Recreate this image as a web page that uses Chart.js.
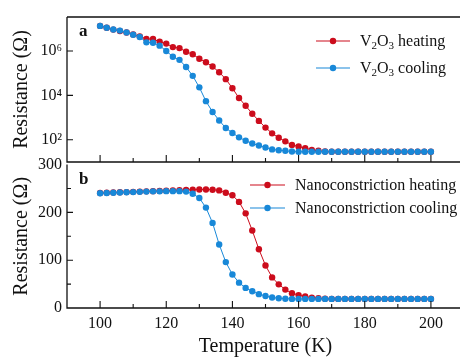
<!DOCTYPE html>
<html>
<head>
<meta charset="utf-8">
<script src="https://cdn.jsdelivr.net/npm/chart.js@4"></script>
<style>
  html, body { margin: 0; padding: 0; background: #fff; overflow: hidden; width: 460px; height: 359px; }
  #wrap { position: relative; width: 460px; height: 359px; overflow: hidden; }
  canvas { position: absolute; left: 0; }
  #topChart { top: 0; }
  #bottomChart { top: 150px; }
</style>
</head>
<body>
<div id="wrap">
  <canvas id="topChart" width="480" height="184"></canvas>
  <canvas id="bottomChart" width="480" height="209"></canvas>
</div>
<script>
// Temperature (K), one reading every 2 K
const temperature = [100, 102, 104, 106, 108, 110, 112, 114, 116, 118,
    120, 122, 124, 126, 128, 130, 132, 134, 136, 138,
    140, 142, 144, 146, 148, 150, 152, 154, 156, 158,
    160, 162, 164, 166, 168, 170, 172, 174, 176, 178,
    180, 182, 184, 186, 188, 190, 192, 194, 196, 198, 200];

// Panel a: V2O3 film resistance (Ohm)
const v2o3Heating = [1.35e7, 1.12e7, 9.2e6, 8.0e6, 6.8e6, 5.6e6, 4.5e6, 3.5e6, 3.45e6, 2.6e6,
    2.15e6, 1.5e6, 1.35e6, 9.3e5, 7.1e5, 4.5e5, 3.1e5, 2.0e5, 1.1e5, 5.4e4,
    2.1e4, 7.6e3, 3.4e3, 1.5e3, 710, 355, 195, 123, 85, 59,
    50, 42, 35, 32, 29.5, 29, 29, 29, 29, 29,
    29, 29, 29, 29, 29, 29, 29, 29, 29, 29, 29];
const v2o3Cooling = [1.35e7, 1.12e7, 9.3e6, 8.3e6, 6.9e6, 5.4e6, 4.3e6, 2.45e6, 2.35e6, 1.74e6,
    1.0e6, 5.5e5, 4.0e5, 1.9e5, 7.6e4, 2.3e4, 5.5e3, 1.8e3, 740, 340,
    204, 129, 91, 68, 55, 45, 37, 34, 32, 29.5,
    29, 29, 29, 29, 29, 29, 29, 29, 29, 29,
    29, 29, 29, 29, 29, 29, 29, 29, 29, 29, 29];

// Panel b: nanoconstriction resistance (Ohm)
const nanoHeating = [240.5, 241, 241.5, 242, 242.5, 243, 243.5, 244, 244.5, 245,
    245.5, 246, 246.5, 247, 247.5, 248, 248, 247.5, 246, 241,
    236, 222, 198, 162, 123, 89, 64, 49.5, 38.5, 31,
    27, 24, 21.5, 20.5, 19.5, 19, 19, 19, 19, 19,
    19, 19, 19, 19, 19, 19, 19, 19, 19, 19, 19];
const nanoCooling = [240, 240.5, 241, 241.5, 242, 242.5, 243, 243.5, 244, 244,
    244.5, 244.5, 244.5, 243.5, 239, 230, 210, 178, 133, 96,
    70, 53, 42, 35, 29, 25, 22, 20.5, 19.5, 19,
    19, 19, 19, 19, 19, 19, 19, 19, 19, 19,
    19, 19, 19, 19, 19, 19, 19, 19, 19, 19, 19];

// Tick values
const xTicks = [100, 120, 140, 160, 180, 200];
const xMinorTicks = [110, 130, 150, 170, 190];
const logTicks = [1e2, 1e4, 1e6];
const logTickLabels = ['10\u00B2', '10\u2074', '10\u2076'];
const linTicks = [0, 100, 200, 300];
const linMinorTicks = [50, 150, 250];

const RED = '#cc0c1c';
const BLUE = '#1888d8';
const FONT = "'Liberation Serif', 'Times New Roman', serif";

Chart.defaults.color = '#111';
Chart.defaults.font.family = FONT;

function toPoints(values) {
    return values.map((v, i) => ({ x: temperature[i], y: v }));
}

function makeDataset(values, color) {
    return {
        data: toPoints(values),
        borderColor: color,
        backgroundColor: color,
        borderWidth: 1,
        pointRadius: 3.2,
        pointBorderWidth: 0,
        pointBackgroundColor: color,
        tension: 0
    };
}

// Draws text pieces, some of them as subscripts
function drawRich(ctx, parts, x, y, size) {
    let cx = x;
    parts.forEach(p => {
        if (p.sub) {
            ctx.font = `${Math.round(size * 0.7)}px ${FONT}`;
            ctx.fillText(p.t, cx, y + size * 0.28);
        } else {
            ctx.font = `${size}px ${FONT}`;
            ctx.fillText(p.t, cx, y);
        }
        cx += ctx.measureText(p.t).width;
    });
}

// Frame, inward ticks, panel letter and legend
const framePlugin = {
    id: 'frame',
    afterDraw(chart, args, opts) {
        const ctx = chart.ctx;
        const area = chart.chartArea;
        const xs = chart.scales.x;
        const ys = chart.scales.y;
        ctx.save();
        ctx.strokeStyle = '#111';
        ctx.lineWidth = 1.3;
        ctx.beginPath();
        ctx.moveTo(area.left, area.top);
        ctx.lineTo(area.left, area.bottom);
        ctx.lineTo(chart.width, area.bottom);
        if (opts.topBorder) {
            ctx.moveTo(area.left, area.top);
            ctx.lineTo(chart.width, area.top);
        }
        ctx.stroke();

        ctx.lineWidth = 1.1;
        ctx.beginPath();
        xTicks.forEach(t => {
            const px = xs.getPixelForValue(t);
            ctx.moveTo(px, area.bottom);
            ctx.lineTo(px, area.bottom - 7);
        });
        xMinorTicks.forEach(t => {
            const px = xs.getPixelForValue(t);
            ctx.moveTo(px, area.bottom);
            ctx.lineTo(px, area.bottom - 4);
        });
        opts.yMajor.forEach(t => {
            const py = ys.getPixelForValue(t);
            if (py > area.top + 1 && py < area.bottom - 1) {
                ctx.moveTo(area.left, py);
                ctx.lineTo(area.left + 6, py);
            }
        });
        opts.yMinor.forEach(t => {
            const py = ys.getPixelForValue(t);
            ctx.moveTo(area.left, py);
            ctx.lineTo(area.left + 4, py);
        });
        ctx.stroke();

        // panel letter
        ctx.fillStyle = '#111';
        ctx.textBaseline = 'alphabetic';
        ctx.textAlign = 'left';
        ctx.font = `bold 17px ${FONT}`;
        ctx.fillText(opts.letter, area.left + 12, area.top + 19);

        // legend
        const lg = opts.legend;
        lg.items.forEach((item, i) => {
            const cy = lg.y + i * lg.gap;
            ctx.strokeStyle = item.color;
            ctx.lineWidth = 1.1;
            ctx.beginPath();
            ctx.moveTo(lg.x, cy);
            ctx.lineTo(lg.x + lg.len, cy);
            ctx.stroke();
            ctx.fillStyle = item.color;
            ctx.beginPath();
            ctx.arc(lg.x + lg.len / 2, cy, 3.2, 0, Math.PI * 2);
            ctx.fill();
            ctx.fillStyle = '#111';
            ctx.textBaseline = 'middle';
            drawRich(ctx, item.parts, lg.x + lg.len + 10, cy + 1, 16);
        });
        ctx.restore();
    }
};

function fixWidth(scale) { scale.width = 67; }

// Panel a: log scale (cooling listed first so it is drawn on top)
new Chart(document.getElementById('topChart'), {
    type: 'line',
    data: { datasets: [makeDataset(v2o3Cooling, BLUE), makeDataset(v2o3Heating, RED)] },
    options: {
        responsive: false,
        animation: false,
        devicePixelRatio: 1,
        layout: { padding: { top: 17, right: 16, bottom: 22, left: 0 } },
        plugins: {
            legend: { display: false },
            tooltip: { enabled: false },
            frame: {
                letter: 'a',
                topBorder: true,
                yMajor: logTicks,
                yMinor: [],
                legend: {
                    x: 316, y: 41, gap: 27, len: 34,
                    items: [
                        { color: RED, parts: [{ t: 'V' }, { t: '2', sub: true }, { t: 'O' }, { t: '3', sub: true }, { t: ' heating' }] },
                        { color: BLUE, parts: [{ t: 'V' }, { t: '2', sub: true }, { t: 'O' }, { t: '3', sub: true }, { t: ' cooling' }] }
                    ]
                }
            }
        },
        scales: {
            x: { type: 'linear', min: 90, max: 210, display: false },
            y: {
                type: 'logarithmic', min: 10, max: 3.4e7,
                afterFit: fixWidth,
                afterBuildTicks: s => { s.ticks = logTicks.map(v => ({ value: v })); },
                grid: { display: false, drawTicks: false },
                border: { display: false },
                ticks: {
                    padding: 5,
                    font: { size: 16 },
                    callback: v => logTickLabels[logTicks.indexOf(v)] || ''
                },
                title: { display: true, text: 'Resistance (\u03A9)', font: { size: 20 }, padding: { top: 10, bottom: 0 } }
            }
        }
    },
    plugins: [framePlugin]
});

// Panel b: linear scale
new Chart(document.getElementById('bottomChart'), {
    type: 'line',
    data: { datasets: [makeDataset(nanoCooling, BLUE), makeDataset(nanoHeating, RED)] },
    options: {
        responsive: false,
        animation: false,
        devicePixelRatio: 1,
        layout: { padding: { top: 12, right: 16, bottom: 0, left: 0 } },
        plugins: {
            legend: { display: false },
            tooltip: { enabled: false },
            frame: {
                letter: 'b',
                topBorder: false,
                yMajor: linTicks,
                yMinor: linMinorTicks,
                legend: {
                    x: 250, y: 35, gap: 23, len: 35,
                    items: [
                        { color: RED, parts: [{ t: 'Nanoconstriction heating' }] },
                        { color: BLUE, parts: [{ t: 'Nanoconstriction cooling' }] }
                    ]
                }
            }
        },
        scales: {
            x: {
                type: 'linear', min: 90, max: 210,
                afterFit: s => { s.height = 51; },
                afterBuildTicks: s => { s.ticks = xTicks.map(v => ({ value: v })); },
                grid: { display: false, drawTicks: false },
                border: { display: false },
                ticks: { padding: 6, font: { size: 16 }, maxRotation: 0 },
                title: { display: true, text: 'Temperature (K)', font: { size: 20 }, padding: { top: 0, bottom: 0 } }
            },
            y: {
                type: 'linear', min: 0, max: 300,
                afterFit: fixWidth,
                afterBuildTicks: s => { s.ticks = linTicks.map(v => ({ value: v })); },
                grid: { display: false, drawTicks: false },
                border: { display: false },
                ticks: { padding: 5, font: { size: 16 } },
                title: { display: true, text: 'Resistance (\u03A9)', font: { size: 20 }, padding: { top: 10, bottom: 0 } }
            }
        }
    },
    plugins: [framePlugin]
});
</script>
</body>
</html>
